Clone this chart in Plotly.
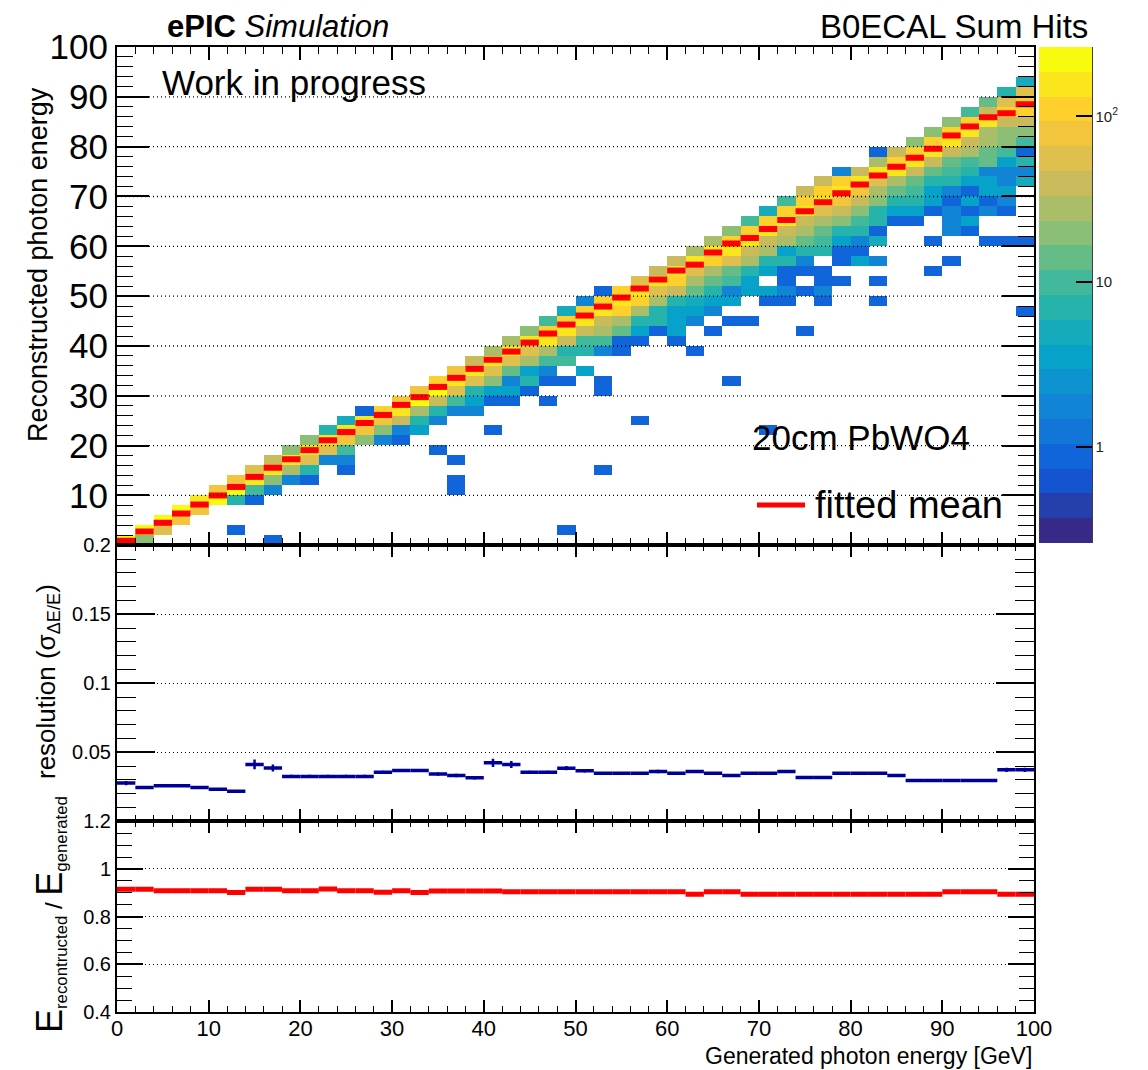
import math
import plotly.graph_objects as go

# ------------------------------------------------------------------
# DATA
# ------------------------------------------------------------------
gen_energy_bins = [1, 3, 5, 7, 9, 11, 13, 15, 17, 19, 21, 23, 25, 27, 29, 31, 33, 35, 37, 39,
                   41, 43, 45, 47, 49, 51, 53, 55, 57, 59, 61, 63, 65, 67, 69, 71, 73, 75, 77, 79,
                   81, 83, 85, 87, 89, 91, 93, 95, 97, 99]
reco_energy_bins = [1, 3, 5, 7, 9, 11, 13, 15, 17, 19, 21, 23, 25, 27, 29, 31, 33, 35, 37, 39,
                    41, 43, 45, 47, 49, 51, 53, 55, 57, 59, 61, 63, 65, 67, 69, 71, 73, 75, 77, 79,
                    81, 83, 85, 87, 89, 91, 93, 95, 97, 99]

# 2D histogram: for every generated-energy bin, the index of the highest filled
# reconstructed-energy bin and the counts going downwards from it
hist_top_bin = [0, 1, 2, 3, 4, 5, 6, 7, 8, 9, 10, 11, 12, 13, 13, 14, 15, 16, 17, 18,
                19, 20, 21, 22, 23, 24, 25, 25, 26, 27, 28, 29, 30, 31, 32, 33, 34, 35, 36, 37,
                37, 39, 39, 40, 41, 42, 43, 44, 45, 46]
hist_counts = [
    [240],
    [240, 21],
    [240, 55],
    [200, 85],
    [170, 85],
    [85, 200],
    [85, 200, 7],
    [50, 170, 10, 1],
    [45, 170, 21, 2],
    [21, 170, 30, 2],
    [21, 180, 60, 7, 1],
    [7, 180, 60, 2],
    [5, 170, 85, 10, 2, 1],
    [1, 170, 85, 21],
    [120, 85, 21, 2],
    [85, 150, 42, 2, 1],
    [85, 200, 30, 7, 4],
    [120, 200, 42, 7, 2],
    [85, 140, 50, 10, 2],
    [42, 140, 60, 7, 4, 2],
    [30, 140, 60, 21, 4, 1],
    [30, 140, 50, 15, 2, 4, 1],
    [21, 140, 50, 30, 4, 7, 1],
    [10, 120, 140, 30, 10, 2, 1, 0, 1],
    [5, 120, 140, 42, 7, 10, 0, 1],
    [2, 120, 140, 42, 10, 7, 0, 4],
    [1, 120, 140, 42, 25, 10, 2, 0, 0, 1, 1],
    [120, 140, 120, 30, 15, 1, 1],
    [60, 140, 120, 30, 7, 4, 1],
    [42, 140, 50, 30, 7, 7, 1],
    [42, 140, 120, 42, 7, 4, 4, 4, 1],
    [30, 140, 60, 30, 15, 5, 4, 2, 0, 0, 1],
    [30, 140, 100, 30, 15, 7, 4, 2, 0, 1],
    [21, 130, 140, 60, 15, 10, 2, 4, 0, 1],
    [10, 120, 140, 42, 30, 7, 4, 4, 0, 0, 1],
    [5, 120, 140, 42, 30, 7, 4, 0, 4, 1],
    [10, 120, 140, 42, 30, 4, 7, 1, 1, 2, 1],
    [42, 120, 140, 42, 30, 15, 7, 2, 1, 0, 1, 0, 0, 0, 1],
    [42, 120, 140, 60, 30, 15, 10, 7, 0, 1, 1, 2, 1],
    [2, 120, 140, 85, 42, 21, 7, 4, 1, 1, 0, 1],
    [42, 140, 85, 35, 18, 10, 7, 2, 1, 3],
    [1, 30, 140, 50, 30, 18, 7, 7, 1, 5, 0, 2, 0, 1, 0, 1],
    [42, 120, 140, 25, 15, 7, 4, 1],
    [21, 120, 140, 42, 15, 10, 7, 4, 1],
    [21, 120, 140, 42, 15, 7, 4, 4, 1, 0, 0, 1, 0, 0, 1],
    [21, 120, 140, 42, 15, 10, 7, 2, 1, 2, 2, 2, 0, 0, 1],
    [10, 120, 140, 42, 30, 10, 7, 4, 1, 4, 1, 4, 1],
    [15, 42, 140, 30, 25, 15, 15, 2, 4, 4, 1, 2, 0, 0, 1],
    [7, 60, 110, 42, 21, 18, 10, 4, 2, 2, 4, 2, 1, 0, 0, 1],
    [5, 50, 120, 100, 42, 21, 10, 1, 7, 2, 5],
]
# isolated single-count cells far below the diagonal
isolated_gen_bin = [6, 8, 17, 18, 18, 18, 20, 24, 26, 28, 33, 35, 49, 49]
isolated_reco_bin = [1, 0, 9, 8, 6, 5, 11, 1, 7, 12, 16, 11, 30, 23]
isolated_count = [1, 1, 1, 1, 1, 1, 1, 1, 1, 1, 1, 1, 1, 1]

# fitted mean of reconstructed energy per generated-energy bin
fitted_mean = [0.92, 2.75, 4.55, 6.36, 8.18, 10.00, 11.71, 13.73, 15.56, 17.27,
               19.09, 21.07, 22.73, 24.54, 26.16, 28.18, 29.73, 31.78, 33.60, 35.41,
               37.23, 38.87, 40.68, 42.49, 44.30, 46.10, 47.91, 49.72, 51.53, 53.34,
               55.14, 56.32, 58.76, 60.57, 61.69, 63.47, 65.26, 67.05, 68.84, 70.63,
               72.41, 74.20, 75.99, 77.78, 79.57, 82.26, 84.07, 85.88, 86.72, 88.51]

# resolution sigma(dE/E)
resolution = [0.0277, 0.0245, 0.0257, 0.0257, 0.0245, 0.0233, 0.0218,
              0.0412, 0.0386,
              0.0325, 0.0325, 0.0325, 0.0325, 0.0325,
              0.0356, 0.0368, 0.0368, 0.0342, 0.0332, 0.0315,
              0.0424, 0.0412,
              0.0356, 0.0356, 0.0385, 0.0366,
              0.0349, 0.0349, 0.0349, 0.0361, 0.0349,
              0.0361, 0.0349, 0.0332,
              0.0349, 0.0349, 0.0361, 0.0318, 0.0318,
              0.0349, 0.0349, 0.0349,
              0.0332,
              0.0296, 0.0296, 0.0296, 0.0296, 0.0296,
              0.0373, 0.0373]
resolution_err = [0.0015, 0.0004, 0.0004, 0.0004, 0.0004, 0.0004, 0.0004,
                  0.0035, 0.0025,
                  0.0012, 0.0012, 0.0012, 0.0012, 0.0012,
                  0.0010, 0.0010, 0.0010, 0.0012, 0.0012, 0.0013,
                  0.0030, 0.0025,
                  0.0010, 0.0010, 0.0015, 0.0012,
                  0.0008, 0.0008, 0.0008, 0.0012, 0.0008,
                  0.0010, 0.0007, 0.0010,
                  0.0008, 0.0008, 0.0008, 0.0008, 0.0008,
                  0.0008, 0.0008, 0.0008,
                  0.0010,
                  0.0004, 0.0004, 0.0004, 0.0004, 0.0004,
                  0.0015, 0.0015]

# E_reco / E_gen
energy_ratio = [0.915, 0.915, 0.909, 0.909, 0.909, 0.909, 0.901, 0.915, 0.915, 0.909,
                0.909, 0.916, 0.909, 0.909, 0.902, 0.909, 0.901, 0.908, 0.908, 0.908,
                0.908, 0.904, 0.904, 0.904, 0.904, 0.904, 0.904, 0.904, 0.904, 0.904,
                0.904, 0.894, 0.904, 0.904, 0.894, 0.894, 0.894, 0.894, 0.894, 0.894,
                0.894, 0.894, 0.894, 0.894, 0.894, 0.904, 0.904, 0.904, 0.894, 0.894]

BIN_HALF_WIDTH = 1.0  # GeV, half width of the 2 GeV bins

# ------------------------------------------------------------------
# build histogram matrix (log10 of counts, empty = None)
# ------------------------------------------------------------------
nb = len(gen_energy_bins)
z = [[None] * nb for _ in range(len(reco_energy_bins))]
for i, (top, counts) in enumerate(zip(hist_top_bin, hist_counts)):
    for k, c in enumerate(counts):
        if c > 0:
            z[top - k][i] = math.log10(c)
for i, j, c in zip(isolated_gen_bin, isolated_reco_bin, isolated_count):
    z[j][i] = math.log10(c)

# ROOT kBird palette, 20 discrete contour bands
bird_r = [0.2082, 0.0592, 0.0780, 0.0232, 0.1802, 0.5301, 0.8186, 0.9956, 0.9764]
bird_g = [0.1664, 0.3599, 0.5041, 0.6419, 0.7178, 0.7492, 0.7328, 0.7862, 0.9832]
bird_b = [0.5293, 0.8684, 0.8385, 0.7914, 0.6425, 0.4662, 0.3499, 0.1968, 0.0539]


def bird(f):
    p = f * 8
    k = min(int(p), 7)
    t = p - k
    r = bird_r[k] + t * (bird_r[k + 1] - bird_r[k])
    g = bird_g[k] + t * (bird_g[k + 1] - bird_g[k])
    b = bird_b[k] + t * (bird_b[k + 1] - bird_b[k])
    return "rgb(%d,%d,%d)" % (round(r * 255), round(g * 255), round(b * 255))


NBANDS = 20
colorscale = []
for k in range(NBANDS):
    col = bird(k / (NBANDS - 1))
    colorscale.append([k / NBANDS, col])
    colorscale.append([(k + 1) / NBANDS, col])

ZMIN, ZMAX = -0.58, 2.42

# ------------------------------------------------------------------
# geometry (the page puts the figure at an 8 px offset, compensate for it)
# ------------------------------------------------------------------
OFF = 8
W, H = 1148 - OFF, 1070 - OFF
ML, MR, MT, MB = 117 - OFF, 114, 47 - OFF, 58
PW, PH = W - ML - MR, H - MT - MB


def px_x(X):
    return (X - OFF - ML) / PW


def px_y(Y):
    return (H - MB - (Y - OFF)) / PH


top_dom = [px_y(545.3), 1.0]
mid_dom = [px_y(821.3), px_y(545.3)]
bot_dom = [0.0, px_y(821.3)]

CB_X0, CB_X1 = px_x(1039), px_x(1092)
CB_Y0, CB_Y1 = px_y(543), 1.0

FONT = "Liberation Sans, Arial, sans-serif"
DOT = "1px,3px"

fig = go.Figure()

fig.add_trace(go.Heatmap(
    x=gen_energy_bins, y=reco_energy_bins, z=z,
    xaxis="x", yaxis="y",
    colorscale=colorscale, zmin=ZMIN, zmax=ZMAX,
    hoverongaps=False,
    colorbar=dict(
        x=CB_X0, xanchor="left", xpad=0, ypad=0,
        y=CB_Y1, yanchor="top", len=CB_Y1 - CB_Y0, lenmode="fraction",
        thickness=53, thicknessmode="pixels",
        outlinewidth=0,
        tickmode="array", tickvals=[0, 1, 2], ticktext=["1", "10", "10<sup>2</sup>"],
        ticks="inside", ticklen=16, tickcolor="black", tickwidth=1.5,
        tickfont=dict(family=FONT, size=15, color="#222"),
    ),
))

fig.add_trace(go.Scatter(
    x=gen_energy_bins, y=fitted_mean, xaxis="x", yaxis="y",
    mode="markers", marker=dict(size=1, color="red"),
    error_x=dict(type="constant", value=BIN_HALF_WIDTH, width=0, thickness=6, color="red"),
    showlegend=False, hoverinfo="skip",
))

fig.add_trace(go.Scatter(
    x=gen_energy_bins, y=resolution, xaxis="x2", yaxis="y2",
    mode="markers", marker=dict(size=1, color="#000099"),
    error_x=dict(type="constant", value=BIN_HALF_WIDTH, width=0, thickness=3.5, color="#000099"),
    error_y=dict(type="data", array=resolution_err, width=0, thickness=2.5, color="#000099"),
    showlegend=False,
))

fig.add_trace(go.Scatter(
    x=gen_energy_bins, y=energy_ratio, xaxis="x3", yaxis="y3",
    mode="markers", marker=dict(size=1, color="red"),
    error_x=dict(type="constant", value=BIN_HALF_WIDTH, width=0, thickness=5, color="red"),
    showlegend=False,
))


def xax(anchor, ticklen, minorlen, labels, matches=None):
    d = dict(
        domain=[0, 1], anchor=anchor, range=[0, 100],
        tickmode="linear", tick0=0, dtick=10,
        ticks="inside", ticklen=ticklen, tickwidth=1.5, tickcolor="black",
        minor=dict(ticks="inside", ticklen=minorlen, dtick=2, tick0=0,
                   tickcolor="black", tickwidth=1.2, showgrid=False),
        mirror="allticks", showline=True, linecolor="black", linewidth=2,
        showgrid=False, zeroline=False, showticklabels=labels,
        tickfont=dict(family=FONT, size=22, color="black"),
        layer="above traces",
    )
    if labels:
        d["ticklabelstandoff"] = -4
    if matches:
        d["matches"] = matches
    return d


def yax(anchor, dom, rng, dtick, tick0, ticklen, minordt, minorlen, fsize, grid, alias):
    return dict(
        domain=dom, anchor=anchor, range=rng,
        tickmode="linear", tick0=tick0, dtick=dtick,
        ticks="inside", ticklen=ticklen, tickwidth=1.5, tickcolor="black",
        minor=dict(ticks="inside", ticklen=minorlen, dtick=minordt, tick0=tick0,
                   tickcolor="black", tickwidth=1.2, showgrid=False),
        mirror="allticks", showline=True, linecolor="black", linewidth=2,
        showgrid=grid, gridcolor="black", griddash=DOT, gridwidth=1,
        zeroline=False, labelalias=alias,
        tickfont=dict(family=FONT, size=fsize, color="black"),
        layer="above traces",
    )


fig.update_layout(
    width=W, height=H,
    margin=dict(l=ML, r=MR, t=MT, b=MB, autoexpand=False),
    paper_bgcolor="white", plot_bgcolor="white",
    showlegend=False,
    font=dict(family=FONT, color="black"),
    xaxis=xax("y", 13, 7, False),
    xaxis2=xax("y2", 12, 6, False, "x"),
    xaxis3=xax("y3", 12, 6, True, "x"),
    yaxis=yax("x", top_dom, [0, 100], 10, 0, 32, 2, 16, 35, False, {"0": " "}),
    yaxis2=yax("x2", mid_dom, [0, 0.2], 0.05, 0, 38, 0.01, 19, 20, True, {"0": " "}),
    yaxis3=yax("x3", bot_dom, [0.4, 1.2], 0.2, 0.4, 26, 0.05, 15, 20, True, {}),
)

# dotted grid of the top panel drawn above the histogram (as ROOT does)
for gy in (10, 20, 30, 40, 50, 60, 70, 80, 90):
    fig.add_shape(type="line", xref="x domain", yref="y", x0=0, x1=1, y0=gy, y1=gy,
                  line=dict(color="black", width=1.3, dash=DOT), layer="above")

# right-hand axis line of the colour bar and its minor (log) ticks
fig.add_shape(type="line", xref="paper", yref="paper",
              x0=CB_X1, x1=CB_X1, y0=CB_Y0, y1=CB_Y1,
              line=dict(color="black", width=1.5))
minor_len = 8 / PW
for dec in (-1, 0, 1, 2):
    for m in range(2, 10):
        v = math.log10(m) + dec
        if ZMIN <= v <= ZMAX:
            yp = CB_Y0 + (v - ZMIN) / (ZMAX - ZMIN) * (CB_Y1 - CB_Y0)
            fig.add_shape(type="line", xref="paper", yref="paper",
                          x0=CB_X1 - minor_len, x1=CB_X1, y0=yp, y1=yp,
                          line=dict(color="black", width=1.5))

# legend entry: red line + text
fig.add_shape(type="line", xref="paper", yref="paper",
              x0=px_x(757), x1=px_x(805), y0=px_y(505), y1=px_y(505),
              line=dict(color="red", width=5))

ann = [
    dict(text="<b>ePIC</b> <i>Simulation</i>", x=px_x(165), y=px_y(26),
         xanchor="left", yanchor="middle", font=dict(size=31)),
    dict(text="B0ECAL Sum Hits", x=px_x(1090), y=px_y(27),
         xanchor="right", yanchor="middle", font=dict(size=33)),
    dict(text="Work in progress", x=px_x(160), y=px_y(83),
         xanchor="left", yanchor="middle", font=dict(size=35)),
    dict(text="20cm PbWO4", x=px_x(750), y=px_y(437),
         xanchor="left", yanchor="middle", font=dict(size=35)),
    dict(text="fitted mean", x=px_x(813), y=px_y(505),
         xanchor="left", yanchor="middle", font=dict(size=38)),
    dict(text="Reconstructed photon energy", x=px_x(38), y=px_y(265),
         xanchor="center", yanchor="middle", textangle=-90, font=dict(size=27)),
    dict(text="resolution (σ<sub>ΔE/E</sub>)", x=px_x(47), y=px_y(682),
         xanchor="center", yanchor="middle", textangle=-90, font=dict(size=26)),
    dict(text="<span style='font-size:36px'>E</span><sub>recontructed</sub> / "
              "<span style='font-size:36px'>E</span><sub>generated</sub>",
         x=px_x(50), y=px_y(915),
         xanchor="center", yanchor="middle", textangle=-90, font=dict(size=24)),
    dict(text="Generated photon energy [GeV]", x=px_x(1034), y=px_y(1056),
         xanchor="right", yanchor="middle", font=dict(size=23)),
]
for a in ann:
    a.update(xref="paper", yref="paper", showarrow=False)
    a["font"] = dict(family=FONT, color="black", **a["font"])
    fig.add_annotation(**a)

fig.write_html("out.html")
